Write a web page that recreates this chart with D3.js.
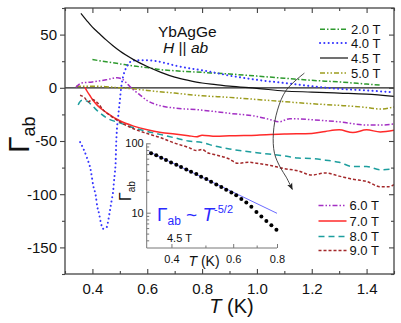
<!DOCTYPE html>
<html><head><meta charset="utf-8">
<script src="https://cdn.jsdelivr.net/npm/d3@7"></script>
<style>body{margin:0;background:#fff}svg{display:block;font-family:"Liberation Sans",Arial,sans-serif}</style>
</head><body><svg id="c" width="401" height="323"></svg>
<script>
const xTicks = [0.4, 0.6, 0.8, 1.0, 1.2, 1.4];
const yTicks = [-150, -100, -50, 0, 50];
const fieldLabels = ["2.0 T", "4.0 T", "4.5 T", "5.0 T", "6.0 T", "7.0 T", "8.0 T", "9.0 T"];

const s20 = [[0.40,26.5],[0.45,24.5],[0.50,22.5],[0.55,20.5],[0.60,19],[0.65,17],[0.70,16],[0.80,14.5],[0.90,13],[1.00,11],[1.10,9],[1.20,7],[1.30,5.5],[1.40,3.5],[1.45,2.5]];
const s40 = [[0.355,-51],[0.379,-65],[0.395,-79],[0.403,-92],[0.412,-101],[0.418,-112],[0.424,-118],[0.430,-126],[0.439,-132.5],[0.452,-131],[0.458,-124.5],[0.464,-115],[0.470,-106],[0.476,-96],[0.479,-87],[0.482,-79.5],[0.485,-68],[0.486,-58],[0.488,-45],[0.494,-27],[0.500,-12],[0.506,2.5],[0.512,10.5],[0.520,17],[0.529,21.5],[0.547,25.5],[0.58,26],[0.62,25.5],[0.67,23],[0.70,21],[0.75,18.5],[0.80,16.5],[0.90,11.5],[1.00,7.5],[1.10,4.5],[1.20,1.5],[1.30,-1],[1.40,-2.5],[1.49,-4]];
const s45 = [[0.358,70],[0.38,63],[0.40,57],[0.425,51],[0.45,45],[0.475,39.5],[0.50,34.5],[0.55,26.5],[0.60,20],[0.65,14.5],[0.70,10],[0.75,7],[0.80,4.5],[0.85,3],[0.90,1.5],[1.00,-0.5],[1.10,-3],[1.20,-4],[1.30,-5],[1.40,-6],[1.50,-8]];
const s50 = [[0.34,1.5],[0.40,1.5],[0.45,1],[0.50,0],[0.55,-1],[0.60,-2.5],[0.70,-5],[0.80,-7.5],[0.90,-9],[1.00,-11],[1.10,-13],[1.20,-15],[1.30,-16.5],[1.40,-18.5],[1.45,-20],[1.50,-18]];
const s60 = [[0.34,0.5],[0.36,4.5],[0.40,5.5],[0.45,7.5],[0.49,9.5],[0.51,8],[0.53,3],[0.55,-2],[0.57,-6],[0.60,-12],[0.65,-17],[0.70,-19],[0.80,-21],[0.90,-24],[1.00,-27],[1.05,-30],[1.08,-32],[1.12,-29],[1.20,-30],[1.30,-32],[1.40,-35],[1.45,-35],[1.50,-34]];
const s70 = [[0.373,0.5],[0.38,-3],[0.39,-7],[0.40,-11],[0.42,-17],[0.45,-23],[0.50,-31],[0.55,-36],[0.60,-39.5],[0.65,-42],[0.70,-43.5],[0.75,-45],[0.78,-46],[0.80,-44.5],[0.85,-45.5],[0.90,-45],[1.00,-44.5],[1.10,-43.5],[1.20,-43],[1.25,-41],[1.30,-39.5],[1.35,-42],[1.40,-39.5],[1.45,-41.5],[1.50,-40]];
const s80 = [[0.348,-16],[0.36,-12],[0.38,-12.5],[0.40,-17],[0.42,-22],[0.45,-28],[0.50,-33],[0.55,-37.5],[0.60,-41],[0.65,-44],[0.70,-47],[0.75,-50],[0.80,-51.5],[0.85,-55],[0.90,-57.5],[1.00,-61],[1.10,-64],[1.15,-66],[1.20,-66.5],[1.25,-68],[1.30,-70],[1.35,-74],[1.40,-74],[1.45,-77],[1.50,-76]];
const s90 = [[0.355,-7],[0.37,-9],[0.385,-13],[0.40,-11],[0.42,-14.5],[0.44,-21],[0.47,-27],[0.50,-32],[0.55,-38.5],[0.60,-43],[0.65,-47],[0.70,-52],[0.75,-56],[0.78,-59],[0.80,-58],[0.82,-61],[0.85,-63],[0.90,-67],[0.93,-71],[0.97,-70],[1.00,-71],[1.05,-73],[1.10,-76],[1.15,-78],[1.20,-82],[1.25,-80],[1.30,-83],[1.35,-86],[1.40,-88],[1.45,-93],[1.48,-93],[1.50,-91]];

// inset: 4.5 T data, log-log
const insetT = [0.350,0.362,0.374,0.386,0.399,0.413,0.426,0.441,0.455,0.471,0.486,0.503,0.519,0.537,0.555,0.573,0.593,0.612,0.633,0.654,0.676,0.699,0.722,0.746,0.771,0.797];
const insetG = [72,67,62,57.5,53,49,45.5,42,39,36,33,30.5,28,25.5,23.5,21.5,19.5,17.8,15.8,14,12.2,10.2,8.8,7.6,6.6,5.7];
const insetFit = [[0.345,76],[0.80,9.8]];
const insetXTicks = [0.4, 0.6, 0.8];
const insetYTicks = [10, 100];
const arrowPts = [[1.173,13.8],[1.107,-2.2],[1.075,-21],[1.06,-42.7],[1.064,-61.5],[1.085,-74.7],[1.107,-84],[1.129,-95.4]];

const DOT = "0.1,4.2";
const series = [
  {name: fieldLabels[0], data: s20, color: "#2e9a2e", dash: "5,2,1.5,2", w: 1.5},
  {name: fieldLabels[1], data: s40, color: "#3535ff", dash: DOT, w: 2},
  {name: fieldLabels[2], data: s45, color: "#111", dash: null, w: 1.2},
  {name: fieldLabels[3], data: s50, color: "#9c9c1e", dash: "5,2,1.5,2,1.5,2", w: 1.5},
  {name: fieldLabels[4], data: s60, color: "#a32fc4", dash: "5,2,1.5,2,1.5,2", w: 1.5},
  {name: fieldLabels[5], data: s70, color: "#ff2a2a", dash: null, w: 1.5},
  {name: fieldLabels[6], data: s80, color: "#1d9e9e", dash: "6,4", w: 1.5},
  {name: fieldLabels[7], data: s90, color: "#a3282a", dash: "3,2", w: 1.5}
];

const svg = d3.select("#c");
const L = 65, R = 394, Tp = 8, B = 274;
const x = d3.scaleLinear().domain([0.3, 1.5]).range([L, R]);
const y = d3.scaleLinear().domain([-175, 75]).range([B, Tp]);
const axisColor = "#444";

svg.append("defs").append("clipPath").attr("id", "clip")
  .append("rect").attr("x", L).attr("y", Tp).attr("width", R - L).attr("height", B - Tp);
const mk = svg.select("defs").append("marker").attr("id", "arr")
  .attr("viewBox", "0 0 10 10").attr("refX", 9).attr("refY", 5)
  .attr("markerWidth", 7).attr("markerHeight", 7).attr("orient", "auto-start-reverse")
  .attr("markerUnits", "userSpaceOnUse");
mk.append("path").attr("d", "M0,1 L10,5 L0,9 L2.5,5 Z").attr("fill", "#222");

// zero line
svg.append("line").attr("x1", L).attr("x2", R).attr("y1", y(0)).attr("y2", y(0))
  .attr("stroke", "#222").attr("stroke-width", 1.2);

// series
const line = d3.line().x(d => x(d[0])).y(d => y(d[1])).curve(d3.curveMonotoneX);
const g = svg.append("g").attr("clip-path", "url(#clip)");
series.forEach(s => {
  g.append("path").attr("d", line(s.data)).attr("fill", "none")
    .attr("stroke", s.color).attr("stroke-width", s.w)
    .attr("stroke-dasharray", s.dash)
    .attr("stroke-linecap", s.dash === DOT ? "round" : "butt");
});

// arrow
svg.append("path").attr("d", d3.line().x(d => x(d[0])).y(d => y(d[1])).curve(d3.curveCatmullRom)(arrowPts))
  .attr("fill", "none").attr("stroke", "#333").attr("stroke-width", 0.9).attr("marker-end", "url(#arr)");

// axes
svg.append("g").attr("transform", `translate(0,${B})`)
  .call(d3.axisBottom(x).tickValues(xTicks).tickFormat(d3.format(".1f")).tickSizeInner(-5).tickSizeOuter(0).tickPadding(9));
svg.append("g").attr("transform", `translate(0,${Tp})`)
  .call(d3.axisTop(x).tickValues(xTicks).tickFormat("").tickSizeInner(-5).tickSizeOuter(0));
svg.append("g").attr("transform", `translate(${L},0)`)
  .call(d3.axisLeft(y).tickValues(yTicks).tickFormat(d => String(d)).tickSizeInner(5).tickSizeOuter(0).tickPadding(3));
svg.append("g").attr("transform", `translate(${R},0)`)
  .call(d3.axisRight(y).tickValues(yTicks).tickFormat("").tickSizeInner(-5).tickSizeOuter(0));
// minor ticks
const xMinor = d3.range(0.3, 1.51, 0.1).filter(v => !xTicks.some(t => Math.abs(t - v) < 1e-6));
const yMinor = d3.range(-175, 76, 25).filter(v => !yTicks.includes(v));
svg.append("g").attr("transform", `translate(0,${B})`).call(d3.axisBottom(x).tickValues(xMinor).tickFormat("").tickSizeInner(-3).tickSizeOuter(0));
svg.append("g").attr("transform", `translate(0,${Tp})`).call(d3.axisTop(x).tickValues(xMinor).tickFormat("").tickSizeInner(-3).tickSizeOuter(0));
svg.append("g").attr("transform", `translate(${L},0)`).call(d3.axisLeft(y).tickValues(yMinor).tickFormat("").tickSizeInner(3).tickSizeOuter(0));
svg.append("g").attr("transform", `translate(${R},0)`).call(d3.axisRight(y).tickValues(yMinor).tickFormat("").tickSizeInner(-3).tickSizeOuter(0));
svg.selectAll(".domain").remove();
svg.selectAll(".tick line").attr("stroke", axisColor).attr("stroke-width", 1.1);
svg.selectAll(".tick text").attr("font-size", 15).attr("fill", "#111")
  .attr("font-family", "Liberation Sans, Arial, sans-serif");
svg.append("rect").attr("x", L).attr("y", Tp).attr("width", R - L).attr("height", B - Tp)
  .attr("fill", "none").attr("stroke", axisColor).attr("stroke-width", 1.3);

// axis titles
const xt = svg.append("text").attr("x", x(0.9) + 2).attr("y", 313).attr("text-anchor", "middle")
  .attr("font-size", 20).attr("fill", "#111");
xt.append("tspan").attr("font-style", "italic").text("T");
xt.append("tspan").text(" (K)");
const yt = svg.append("text").attr("transform", `translate(29,153) rotate(-90)`)
  .attr("font-size", 30).attr("fill", "#111");
yt.append("tspan").text("Γ");
yt.append("tspan").attr("font-size", 18).attr("dy", 6).text("ab");

// annotations
svg.append("text").attr("x", 158).attr("y", 37).attr("font-size", 15.5).attr("fill", "#111").text("YbAgGe");
const hab = svg.append("text").attr("x", 163).attr("y", 53).attr("font-size", 15.5).attr("fill", "#111");
hab.append("tspan").attr("font-style", "italic").text("H");
hab.append("tspan").text(" || ");
hab.append("tspan").attr("font-style", "italic").text("ab");

// legends
const legTop = [29.3, 43, 58, 73];
const legBot = [205.5, 221, 236.5, 250.5];
series.forEach((s, i) => {
  const ly = i < 4 ? legTop[i] : legBot[i - 4];
  const lx0 = i < 4 ? 320 : 318.5;
  svg.append("line").attr("x1", lx0).attr("x2", lx0 + 28).attr("y1", ly).attr("y2", ly)
    .attr("stroke", s.color).attr("stroke-width", s.w).attr("stroke-dasharray", s.dash)
    .attr("stroke-linecap", s.dash === DOT ? "round" : "butt");
  svg.append("text").attr("x", lx0 + 31).attr("y", ly).attr("dy", "0.36em")
    .attr("font-size", 13).attr("fill", "#111").text(s.name);
});

// inset
const iL = 146.7, iR = 277, iT = 143.3, iB = 248;
const xi = d3.scaleLog().domain([0.34, 0.8]).range([iL, iR]);
const yi = d3.scaleLog().domain([3.1, 100]).range([iB, iT]);
const ig = svg.append("g");
const insetColor = "#777";
ig.append("line").attr("x1", iL).attr("x2", iL).attr("y1", iT).attr("y2", iB).attr("stroke", insetColor);
ig.append("line").attr("x1", iL).attr("x2", iR).attr("y1", iB).attr("y2", iB).attr("stroke", insetColor);
const ixMinor = [0.5, 0.7];
ig.append("g").attr("transform", `translate(0,${iB})`)
  .call(d3.axisBottom(xi).tickValues(insetXTicks).tickFormat(d3.format(".1f")).tickSizeInner(-4).tickSizeOuter(0).tickPadding(7));
ig.append("g").attr("transform", `translate(0,${iB})`)
  .call(d3.axisBottom(xi).tickValues(ixMinor).tickFormat("").tickSizeInner(-2.5).tickSizeOuter(0));
ig.append("g").attr("transform", `translate(${iL},0)`)
  .call(d3.axisLeft(yi).tickValues(insetYTicks).tickFormat(d3.format("d")).tickSizeInner(-4).tickSizeOuter(0).tickPadding(3));
const iyMinor = [4,5,6,7,8,9,20,30,40,50,60,70,80,90];
ig.append("g").attr("transform", `translate(${iL},0)`)
  .call(d3.axisLeft(yi).tickValues(iyMinor).tickFormat("").tickSizeInner(-2.5).tickSizeOuter(0));
ig.selectAll(".domain").remove();
ig.selectAll(".tick line").attr("stroke", insetColor);
ig.selectAll(".tick text").attr("font-size", 11).attr("fill", "#111");
ig.append("path").attr("d", d3.line().x(d => xi(d[0])).y(d => yi(d[1]))(insetFit))
  .attr("stroke", "#6b6bff").attr("stroke-width", 1).attr("fill", "none");
ig.selectAll("circle.dot").data(insetT.map((t, i) => [t, insetG[i]])).join("circle")
  .attr("class", "dot").attr("cx", d => xi(d[0])).attr("cy", d => yi(d[1])).attr("r", 2).attr("fill", "#000");
const ixt = ig.append("text").attr("x", 204).attr("y", 266).attr("text-anchor", "middle").attr("font-size", 14).attr("fill", "#111");
ixt.append("tspan").attr("font-style", "italic").text("T");
ixt.append("tspan").text(" (K)");
const iyt = ig.append("text").attr("transform", `translate(131,201) rotate(-90)`).attr("font-size", 16).attr("fill", "#111");
iyt.append("tspan").text("Γ");
iyt.append("tspan").attr("font-size", 10).attr("dy", 4).text("ab");
const fl = ig.append("text").attr("x", 157).attr("y", 221).attr("font-size", 19).attr("fill", "#2a2aff");
fl.append("tspan").text("Γ");
fl.append("tspan").attr("font-size", 12).attr("dy", 4).text("ab");
fl.append("tspan").attr("dy", -4).text(" ~ ");
fl.append("tspan").attr("font-style", "italic").text("T");
fl.append("tspan").attr("font-size", 11).attr("dy", -8).text("-5/2");
ig.append("text").attr("x", 167).attr("y", 242).attr("font-size", 11).attr("fill", "#111").text("4.5 T");
</script></body></html>
